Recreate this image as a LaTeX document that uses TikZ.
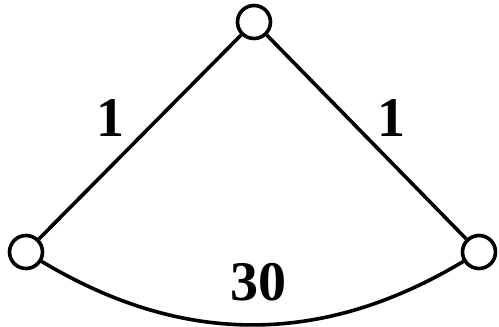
\documentclass[tikz,border=0pt]{standalone}
\usepackage{fontspec}
\setmainfont{Liberation Serif}
\begin{document}
\begin{tikzpicture}[x=1pt, y=-1pt, line width=3.6pt,
    vertex/.style={draw, circle, fill=white, minimum size=33pt, inner sep=0pt},
    weight/.style={font=\fontsize{56}{56}\selectfont\bfseries}]
    \useasboundingbox (0,0) rectangle (499,327);

    % vertices
    \node[vertex] (top) at (254,22) {};
    \node[vertex] (left) at (26,252) {};
    \node[vertex] (right) at (479,252) {};

    % edges
    \draw (top) -- (left);
    \draw (top) -- (right);
    \draw (left) to[bend right=31] (right);

    % weights
    \node[weight] (wl) at (110,118) {1};
    \node[weight] (wr) at (391,118) {1};
    \node[weight] (wb) at (258,282) {30};
\end{tikzpicture}
\end{document}
